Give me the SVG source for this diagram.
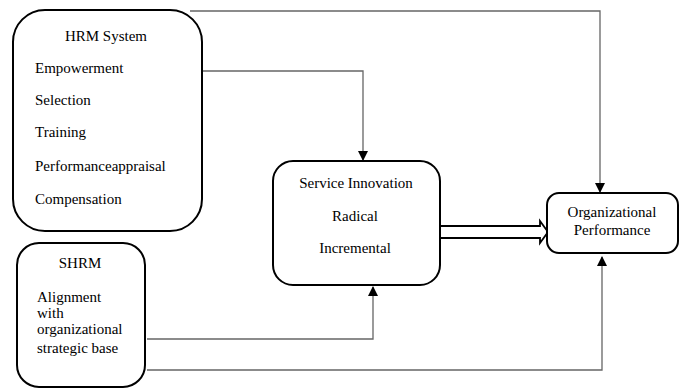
<svg xmlns="http://www.w3.org/2000/svg" width="683" height="389" viewBox="0 0 683 389">
<style>
.box{fill:#fff;stroke:#000;stroke-width:2}
.t{font-family:'Liberation Serif','Times New Roman',Times,serif;font-size:15px;fill:#000}
.c{text-anchor:middle}
.ln{fill:none;stroke:#666;stroke-width:1.3}
</style>
<defs>
<marker id="ah" markerWidth="10" markerHeight="10" refX="9" refY="5" orient="auto" markerUnits="userSpaceOnUse" viewBox="0 0 10 10">
<path d="M0,0 L10,5 L0,10 Z" fill="#000"/>
</marker>
</defs>
<g id="connectors">
<path class="ln" d="M190,11 H600 V192" marker-end="url(#ah)"/>
<path class="ln" d="M200,71 H363 V160" marker-end="url(#ah)"/>
<path class="ln" d="M147,339 H373 V287" marker-end="url(#ah)"/>
<path class="ln" d="M147,370 H602 V257" marker-end="url(#ah)"/>
<path d="M438,226 H540 V221 L548,232 L540,243 V238 H438 Z" fill="#fff" stroke="#000" stroke-width="1.8"/>
</g>
<g id="hrm">
<rect class="box" x="13" y="10" width="189" height="221" rx="32"/>
<text class="t c" x="106" y="41">HRM System</text>
<text class="t" x="35" y="73">Empowerment</text>
<text class="t" x="35" y="105">Selection</text>
<text class="t" x="35" y="137">Training</text>
<text class="t" x="35" y="171">Performanceappraisal</text>
<text class="t" x="35" y="204">Compensation</text>
</g>
<g id="shrm">
<rect class="box" x="17" y="243" width="128" height="144" rx="22"/>
<text class="t c" x="80" y="268">SHRM</text>
<text class="t" x="37" y="302">Alignment</text>
<text class="t" x="37" y="318">with</text>
<text class="t" x="37" y="334">organizational</text>
<text class="t" x="37" y="353">strategic base</text>
</g>
<g id="si">
<rect class="box" x="273" y="161" width="167" height="124" rx="20"/>
<text class="t c" x="356" y="188">Service Innovation</text>
<text class="t c" x="355" y="221">Radical</text>
<text class="t c" x="355" y="253">Incremental</text>
</g>
<g id="op">
<rect class="box" x="547" y="193" width="131" height="60" rx="12"/>
<text class="t c" x="612" y="217">Organizational</text>
<text class="t c" x="612" y="235">Performance</text>
</g>
</svg>
